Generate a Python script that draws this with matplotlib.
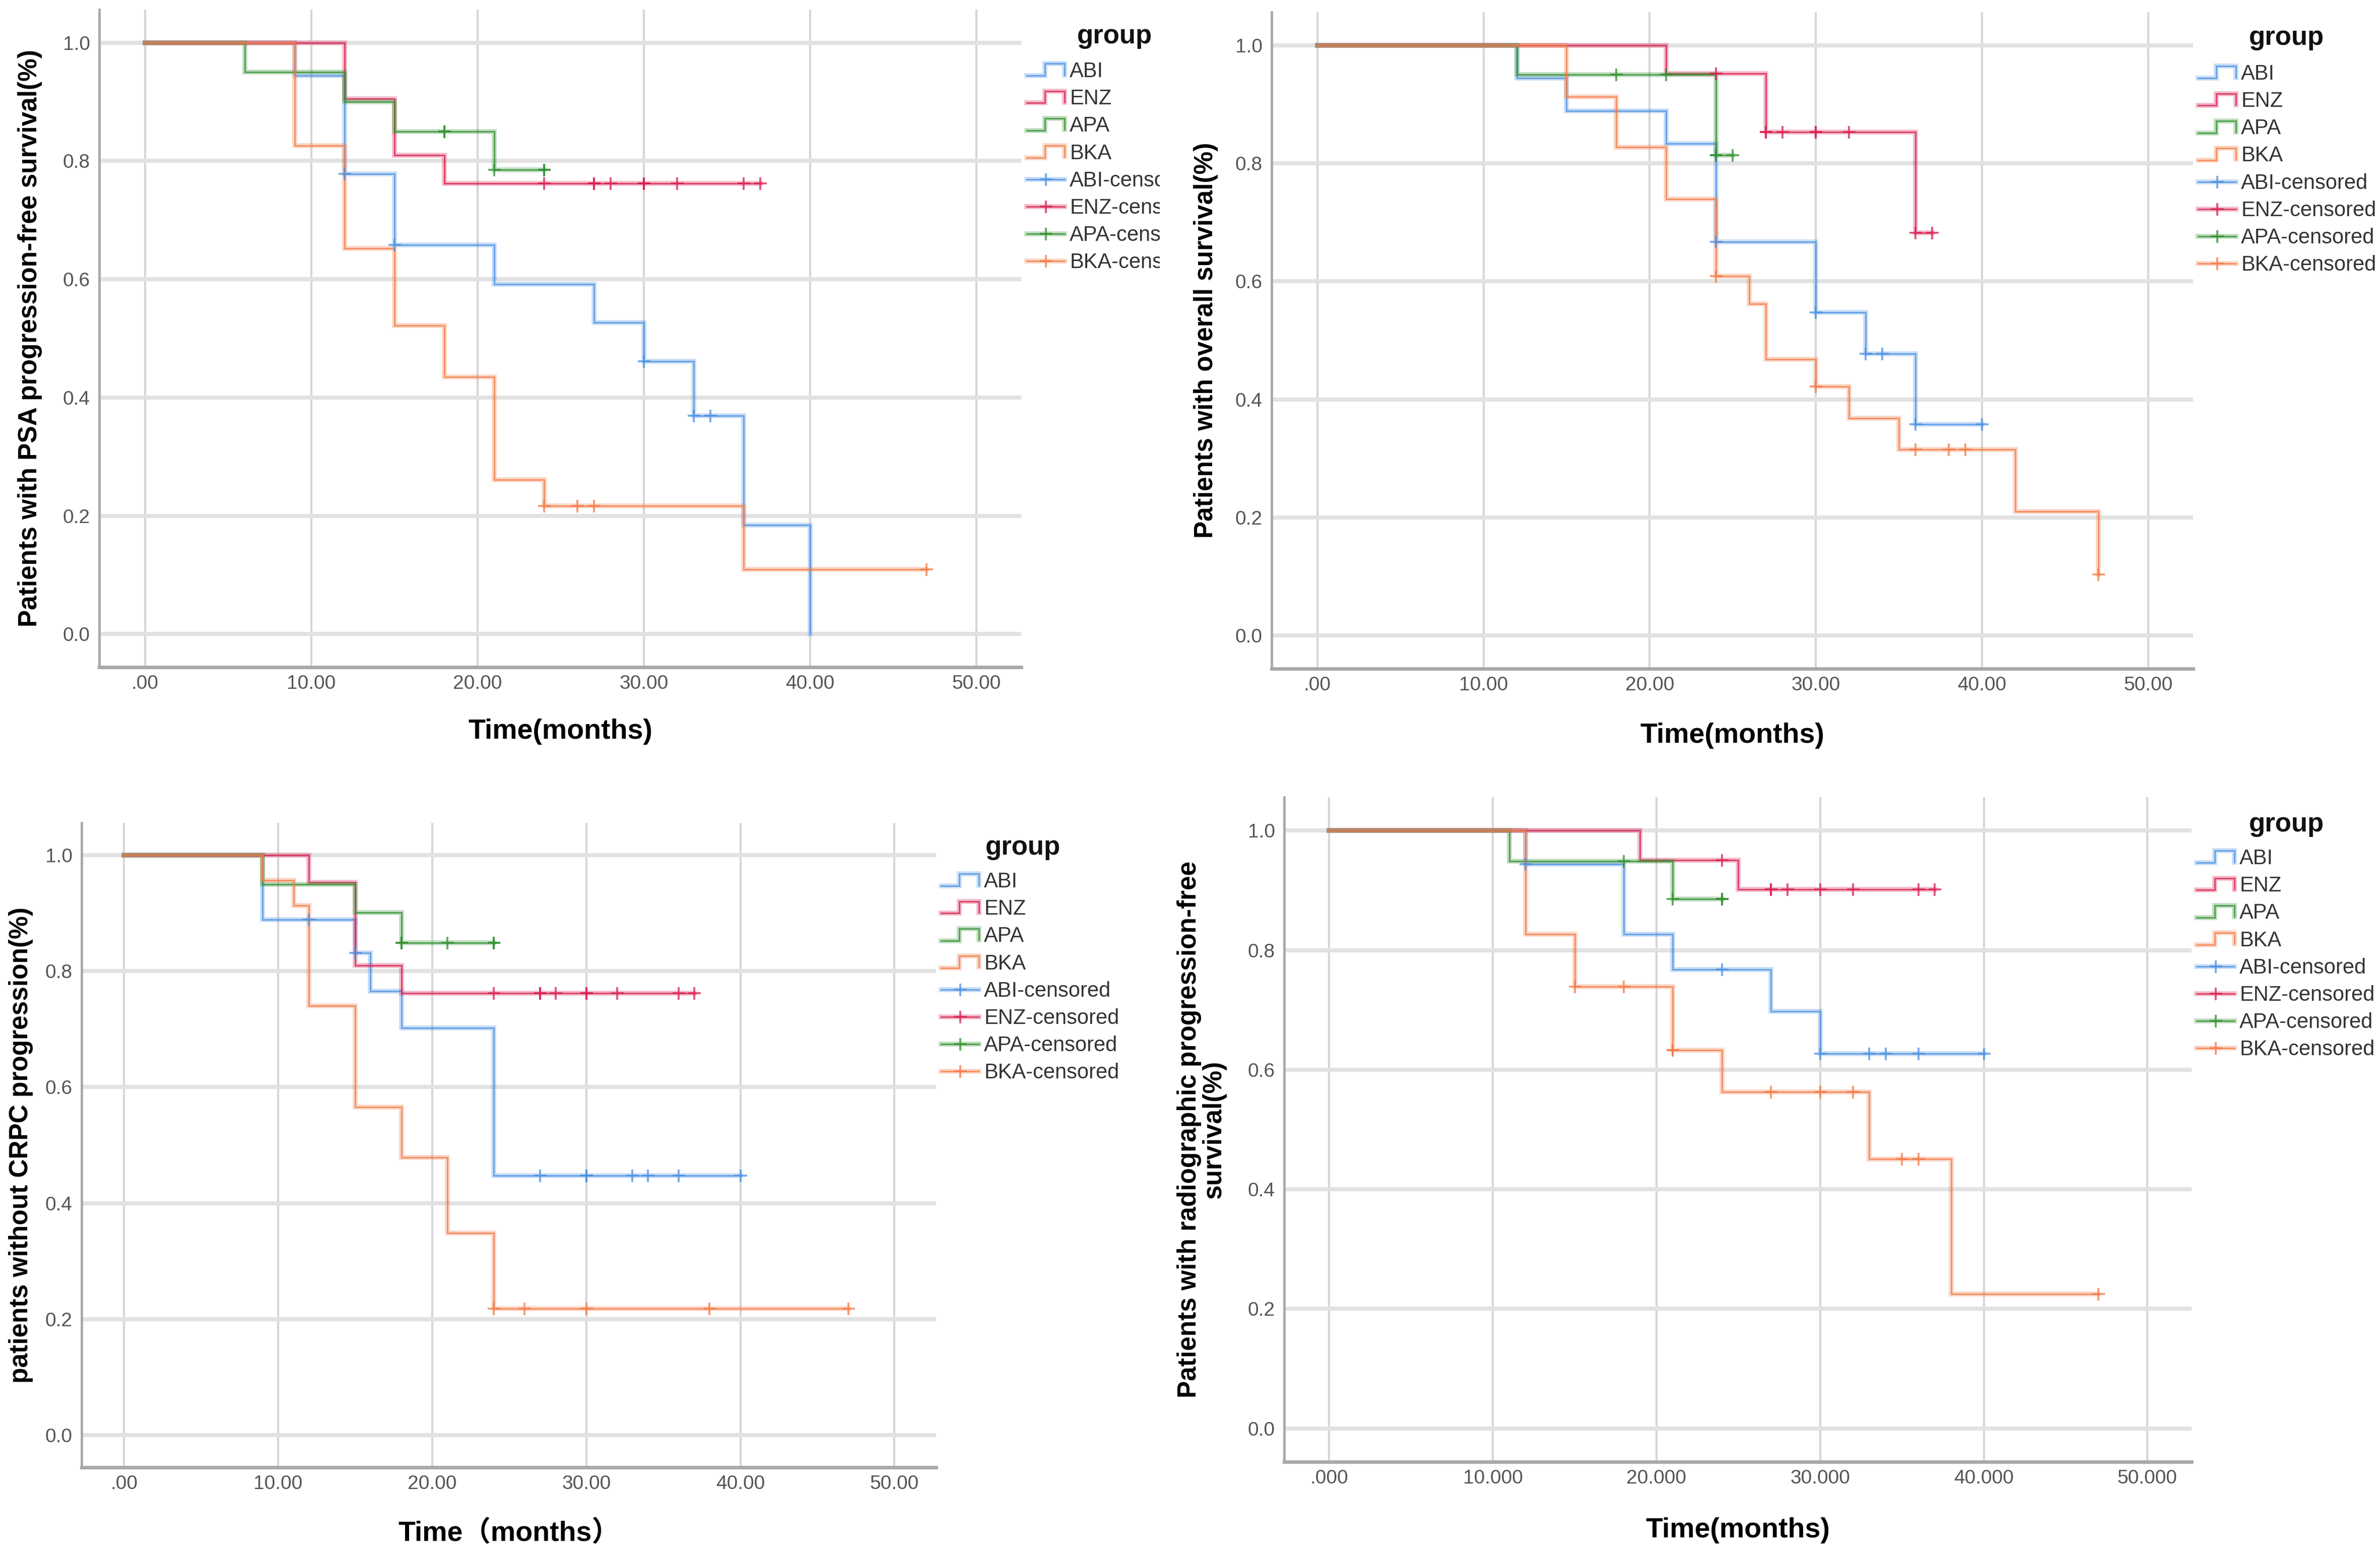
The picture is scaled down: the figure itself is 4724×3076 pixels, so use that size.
import numpy as np
import matplotlib
matplotlib.use('Agg')
import matplotlib.pyplot as plt
from matplotlib.lines import Line2D
from matplotlib.legend_handler import HandlerBase
from matplotlib.transforms import Bbox, TransformedBbox
from matplotlib.ticker import FixedLocator, FuncFormatter
from matplotlib.font_manager import FontProperties

# ---------------- data ----------------
groups = ['ABI', 'ENZ', 'APA', 'BKA']
colors = ['#4a90e2', '#d81e50', '#2f8f2f', '#f47a45']

x_ticks = [0, 10, 20, 30, 40, 50]
y_ticks = [0.0, 0.2, 0.4, 0.6, 0.8, 1.0]

# Panel 1: PSA progression-free survival
psa_abi_t = [9, 12, 15, 21, 27, 30, 33, 36, 40]
psa_abi_s = [0.944, 0.778, 0.658, 0.592, 0.527, 0.461, 0.369, 0.184, 0.0]
psa_abi_c = [12, 15, 30, 33, 34]
psa_enz_t = [12, 15, 18]
psa_enz_s = [0.905, 0.810, 0.762]
psa_enz_c = [24, 27, 27, 28, 30, 30, 32, 36, 37]
psa_apa_t = [6, 12, 15, 21]
psa_apa_s = [0.950, 0.900, 0.850, 0.785]
psa_apa_c = [18, 18, 21, 24, 24]
psa_bka_t = [9, 12, 15, 18, 21, 24, 36]
psa_bka_s = [0.826, 0.652, 0.522, 0.435, 0.261, 0.217, 0.109]
psa_bka_c = [24, 26, 27, 47]

# Panel 2: overall survival
os_abi_t = [12, 15, 21, 24, 30, 33, 36]
os_abi_s = [0.944, 0.889, 0.833, 0.667, 0.547, 0.477, 0.358]
os_abi_c = [24, 30, 33, 34, 36, 40]
os_enz_t = [21, 27, 36]
os_enz_s = [0.952, 0.853, 0.682]
os_enz_c = [24, 27, 27, 28, 30, 30, 32, 36, 37]
os_apa_t = [12, 24]
os_apa_s = [0.950, 0.814]
os_apa_c = [18, 21, 24, 24, 25]
os_bka_t = [15, 18, 21, 24, 26, 27, 30, 32, 35, 42, 47]
os_bka_s = [0.913, 0.827, 0.739, 0.609, 0.562, 0.468, 0.422, 0.368, 0.315, 0.210, 0.104]
os_bka_c = [24, 30, 36, 38, 39, 47]

# Panel 3: without CRPC progression
crpc_abi_t = [9, 15, 16, 18, 24]
crpc_abi_s = [0.889, 0.832, 0.766, 0.702, 0.447]
crpc_abi_c = [12, 15, 27, 30, 30, 33, 34, 36, 40]
crpc_enz_t = [12, 15, 18]
crpc_enz_s = [0.953, 0.810, 0.762]
crpc_enz_c = [24, 27, 27, 28, 30, 30, 32, 36, 37]
crpc_apa_t = [9, 15, 18]
crpc_apa_s = [0.950, 0.901, 0.849]
crpc_apa_c = [18, 18, 21, 24, 24]
crpc_bka_t = [9, 11, 12, 15, 18, 21, 24]
crpc_bka_s = [0.957, 0.913, 0.740, 0.566, 0.479, 0.348, 0.218]
crpc_bka_c = [24, 26, 30, 38, 47]

# Panel 4: radiographic progression-free survival
rpfs_abi_t = [12, 18, 21, 27, 30]
rpfs_abi_s = [0.944, 0.827, 0.768, 0.698, 0.627]
rpfs_abi_c = [12, 24, 30, 33, 34, 36, 40]
rpfs_enz_t = [19, 25]
rpfs_enz_s = [0.951, 0.902]
rpfs_enz_c = [24, 27, 27, 28, 30, 32, 36, 37]
rpfs_apa_t = [11, 21]
rpfs_apa_s = [0.949, 0.886]
rpfs_apa_c = [18, 21, 24, 24]
rpfs_bka_t = [12, 15, 21, 24, 33, 38]
rpfs_bka_s = [0.827, 0.739, 0.633, 0.563, 0.451, 0.225]
rpfs_bka_c = [15, 18, 21, 21, 27, 30, 32, 35, 36, 47]

ylabels = ['Patients with PSA progression-free survival(%)',
           'Patients with overall survival(%)',
           'patients without CRPC progression(%)',
           'Patients with radiographic progression-free\nsurvival(%)']
xlabels = ['Time(months)', 'Time(months)', 'Time\uff08months\uff09', 'Time(months)']
x_decimals = [2, 2, 2, 3]

# ---------------- style ----------------
NARROW = ['Liberation Sans Narrow', 'Liberation Sans', 'Noto Sans CJK SC', 'DejaVu Sans']
BOLDFAM = ['Liberation Sans', 'DejaVu Sans']
plt.rcParams['font.family'] = NARROW

W, H = 4724, 3076
fig = plt.figure(figsize=(W / 100, H / 100), dpi=100)
fig.patch.set_facecolor('white')

def fx(px):
    return px / W

def fy(py):
    return 1 - py / H

# axes rectangles in pixel coords (left, top, right, bottom)
rects = [(197, 19, 2027, 1324), (2524, 24, 4353, 1327),
         (162, 1633, 1858, 2912), (2549, 1582, 4350, 2901)]
ylabel_x = [-0.075, -0.0716, -0.071, -0.091]
xlabel_y = [-0.098, -0.102, -0.103, -0.103]
legend_title_pos = [(2212, 72), (4538, 75), (2030, 1682), (4538, 1636)]
legend_anchor = [(2038, 122), (4363, 127), (1868, 1730), (4360, 1684)]

HALO_LW, HALO_A = 7.0, 0.30
CORE_LW, CORE_A = 2.2, 0.75
MS, MEW = 18, 2.8


class StepProxy(Line2D):
    pass


class StepHandler(HandlerBase):
    def create_artists(self, legend, orig_handle, xdescent, ydescent,
                       width, height, fontsize, trans):
        x0, y0 = -xdescent, -ydescent
        xs = [x0, x0 + 0.48 * width, x0 + 0.48 * width, x0 + width, x0 + width]
        ys = [y0 + 0.05 * height, y0 + 0.05 * height, y0 + 0.95 * height,
              y0 + 0.95 * height, y0 + 0.1 * height]
        c = orig_handle.get_color()
        halo = Line2D(xs, ys, color=c, lw=HALO_LW, alpha=HALO_A,
                      solid_joinstyle='miter')
        core = Line2D(xs, ys, color=c, lw=CORE_LW, alpha=CORE_A,
                      solid_joinstyle='miter')
        halo.set_transform(trans)
        core.set_transform(trans)
        return [halo, core]


panel_data = [
    [(psa_abi_t, psa_abi_s, psa_abi_c), (psa_enz_t, psa_enz_s, psa_enz_c),
     (psa_apa_t, psa_apa_s, psa_apa_c), (psa_bka_t, psa_bka_s, psa_bka_c)],
    [(os_abi_t, os_abi_s, os_abi_c), (os_enz_t, os_enz_s, os_enz_c),
     (os_apa_t, os_apa_s, os_apa_c), (os_bka_t, os_bka_s, os_bka_c)],
    [(crpc_abi_t, crpc_abi_s, crpc_abi_c), (crpc_enz_t, crpc_enz_s, crpc_enz_c),
     (crpc_apa_t, crpc_apa_s, crpc_apa_c), (crpc_bka_t, crpc_bka_s, crpc_bka_c)],
    [(rpfs_abi_t, rpfs_abi_s, rpfs_abi_c), (rpfs_enz_t, rpfs_enz_s, rpfs_enz_c),
     (rpfs_apa_t, rpfs_apa_s, rpfs_apa_c), (rpfs_bka_t, rpfs_bka_s, rpfs_bka_c)],
]


def make_fmt(dec):
    def f(v, pos):
        s = f'{v:.{dec}f}'
        if s.startswith('0.'):
            s = s[1:]
        return s
    return FuncFormatter(f)


for i in range(4):
    l, t, r, b = rects[i]
    ax = fig.add_axes([fx(l), fy(b), fx(r) - fx(l), (b - t) / H])
    ax.set_xlim(-2.75, 52.7)
    ax.set_ylim(-0.056, 1.056)
    ax.set_facecolor('white')

    # grid
    for xv in x_ticks:
        ax.axvline(xv, color='#d6d6d6', lw=3.0, zorder=0)
    for yv in y_ticks:
        ax.axhline(yv, color='#e2e2e2', lw=6.0, zorder=0)

    for k, (tt, ss, cc) in enumerate(panel_data[i]):
        end = max(max(tt), max(cc))
        xs = np.array([0] + list(tt) + [end], dtype=float)
        ys = np.array([1.0] + list(ss) + [ss[-1]], dtype=float)
        col = colors[k]
        ax.step(xs, ys, where='post', color=col, lw=HALO_LW, alpha=HALO_A,
                zorder=2 + k, solid_joinstyle='miter')
        ax.step(xs, ys, where='post', color=col, lw=CORE_LW, alpha=CORE_A,
                zorder=2 + k, solid_joinstyle='miter')
        cx = np.array(cc, dtype=float)
        idx = np.searchsorted(xs, cx, side='right') - 1
        cy = ys[idx]
        ax.plot(cx, cy, linestyle='none', marker='+', ms=MS, mew=MEW,
                color=col, alpha=0.75, zorder=8)

    # spines
    for s in ['top', 'right']:
        ax.spines[s].set_visible(False)
    ax.spines['bottom'].set_color('#a9a9a9')
    ax.spines['bottom'].set_linewidth(5.0)
    ax.spines['left'].set_color('#a9a9a9')
    ax.spines['left'].set_linewidth(3.5)

    ax.xaxis.set_major_locator(FixedLocator(x_ticks))
    ax.yaxis.set_major_locator(FixedLocator(y_ticks))
    ax.xaxis.set_major_formatter(make_fmt(x_decimals[i]))
    ax.yaxis.set_major_formatter(FuncFormatter(lambda v, p: f'{v:.1f}'))
    ax.tick_params(axis='x', length=0, pad=11, labelsize=28, labelcolor='#555555')
    ax.tick_params(axis='y', length=0, pad=13, labelsize=28, labelcolor='#555555')

    ax.set_ylabel(ylabels[i], fontsize=37, fontweight='bold', family=BOLDFAM,
                  linespacing=1.0)
    ax.yaxis.label.set_va('center')
    ax.yaxis.set_label_coords(ylabel_x[i], 0.5)
    ax.set_xlabel(xlabels[i], fontsize=40, fontweight='bold', family=NARROW)
    ax.xaxis.label.set_va('center')
    ax.xaxis.set_label_coords(0.5, xlabel_y[i])

    # legend
    step_handles = [StepProxy([], [], color=c) for c in colors]
    cens_handles = [(Line2D([], [], color=c, lw=HALO_LW, alpha=HALO_A),
                     Line2D([], [], color=c, lw=CORE_LW, alpha=CORE_A,
                            marker='+', ms=MS, mew=MEW))
                    for c in colors]
    labels = groups + [g + '-censored' for g in groups]
    ax_pos = legend_anchor[i]
    leg = ax.legend(step_handles + cens_handles, labels,
                    handler_map={StepProxy: StepHandler()},
                    loc='upper left',
                    bbox_to_anchor=(fx(ax_pos[0]), fy(ax_pos[1])),
                    bbox_transform=fig.transFigure,
                    frameon=False, borderpad=0, borderaxespad=0,
                    handlelength=1.8, handleheight=0.6, handletextpad=0.25,
                    labelspacing=0.34,
                    prop=FontProperties(family=NARROW, size=30))
    for txt in leg.get_texts():
        txt.set_color('#333333')
    if i == 0:
        clip = TransformedBbox(Bbox([[0, 0], [fx(2302), 1]]), fig.transFigure)
        for txt in leg.get_texts():
            txt.set_clip_box(clip)
            txt.set_clip_on(True)
    tp = legend_title_pos[i]
    fig.text(fx(tp[0]), fy(tp[1]), 'group', ha='center', va='center',
             fontsize=38, fontweight='bold', family=NARROW, color='#111111')

fig.savefig('out.png', dpi=100, facecolor='white')
